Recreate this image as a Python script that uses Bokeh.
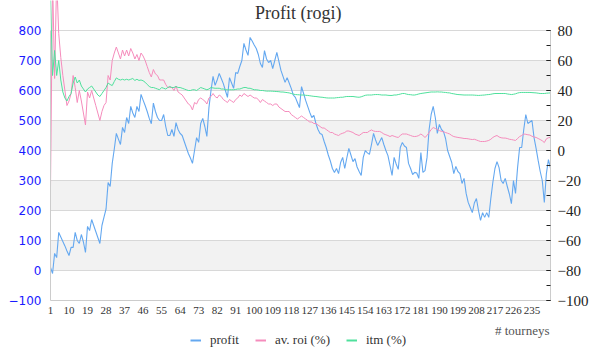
from bokeh.plotting import figure
from bokeh.layouts import column
from bokeh.models import (Range1d, LinearAxis, FixedTicker, SingleIntervalTicker,
                          BoxAnnotation, Legend, LegendItem, Label)
from bokeh.embed import file_html
from bokeh.resources import INLINE

title_text = "Profit  (rogi)"
x_title = "# tourneys"
series_names = ["profit", "av. roi (%)", "itm (%)"]
x_tick_labels = list(range(1, 236, 9))
left_ticks = list(range(-100, 801, 100))

profit = [10, -10, 57, 43, 127, 112, 97, 82, 65, 50,
          77, 77, 127, 100, 90, 120, 95, 60, 147, 133,
          170, 150, 130, 110, 90, 150, 178, 205, 293, 280,
          357, 405, 457, 438, 420, 477, 460, 510, 490, 547,
          525, 510, 547, 530, 587, 568, 550, 530, 507, 489,
          558, 530, 510, 500, 500, 520, 480, 450, 450, 470,
          447, 493, 470, 457, 450, 430, 410, 390, 375, 357,
          400, 443, 427, 490, 507, 480, 447, 543, 600, 647,
          617, 635, 657, 640, 623, 600, 577, 643, 625, 607,
          660, 657, 680, 700, 757, 735, 717, 777, 765, 752,
          740, 720, 690, 677, 733, 705, 693, 700, 673, 700,
          727, 697, 667, 647, 627, 643, 625, 607, 585, 577,
          560, 543, 613, 590, 567, 547, 527, 510, 517, 490,
          470, 457, 453, 430, 410, 385, 365, 340, 327, 340,
          323, 360, 377, 340, 375, 407, 385, 363, 373, 345,
          330, 317, 377, 400, 392, 387, 420, 457, 435, 417,
          430, 443, 420, 400, 383, 350, 317, 377, 355, 337,
          410, 427, 415, 410, 357, 340, 320, 327, 325, 307,
          393, 327, 333, 377, 470, 520, 547, 510, 457, 487,
          470, 463, 440, 400, 380, 360, 323, 347, 330, 323,
          290, 307, 257, 227, 210, 193, 225, 240, 200, 167,
          193, 177, 193, 177, 240, 295, 340, 363, 343, 300,
          290, 307, 280, 255, 223, 300, 257, 343, 410, 410,
          470, 520, 490, 495, 500, 443, 407, 367, 330, 300,
          227, 323, 370, 340]

roi = [-25, 115, 48, 115, 78, 62, 50, 40, 30, 33,
       38, 50, 42, 32, 40, 33, 25, 17, 39, 35,
       40, 35, 30, 25, 20, 26, 30, 32, 50, 47,
       60, 65, 69, 65, 61, 67, 63, 67, 63, 68,
       65, 61, 64, 60, 65, 63, 60, 56, 52, 49,
       54, 51, 50, 47, 47, 47, 44, 42, 42, 42,
       40, 43, 39, 38, 37, 35, 33, 31, 30, 27,
       32, 31, 34, 35, 34, 33, 31, 35, 36, 38,
       36, 35, 37, 36, 34, 33, 32, 34, 33, 32,
       34, 35, 37, 36, 38, 37, 36, 37, 36, 35,
       35, 34, 32, 34, 33, 32, 31, 31, 30, 31,
       31, 29, 28, 27, 26, 26, 26, 24, 23, 22,
       21, 22, 23, 22, 21, 20, 19, 19, 18, 18,
       17, 16, 15, 15, 14, 13, 12, 12, 11, 10.5,
       10, 11, 11.5, 12, 13, 13, 12.5, 12, 11, 10.5,
       10, 11, 12, 12, 12, 13, 13.7, 13, 12.7, 12.7,
       12.7, 12, 11, 10.5, 10, 9.3, 10, 9.5, 9, 8.7,
       10, 11, 11, 11, 10.5, 10, 9.5, 9.3, 9.5, 10,
       11, 10, 8.7, 10, 12, 14, 15.3, 14.7, 14, 13.3,
       12.7, 12.5, 12, 11.5, 11, 10, 9.3, 9, 8.7, 8.5,
       8.3, 8, 8, 7.8, 7.5, 7.3, 7.5, 7, 6.5, 6,
       6, 6, 6.3, 6.7, 7.5, 8.7, 9.5, 10, 9, 8.5,
       8.3, 8.3, 8, 7.5, 7.3, 7, 6.7, 8, 9.3, 10,
       11, 10.8, 10.5, 10.3, 9.5, 9, 8.7, 8, 7.3, 6.5,
       5.3, 7.8, 8.5, 8.7]

itm = [102, 50, 66.7, 50, 60, 47, 39, 35, 33, 36,
       38, 45, 49, 45, 47, 43, 41, 39, 41, 42,
       43, 41, 39, 37, 36, 38, 40, 42, 45, 44,
       43.3, 46, 48.4, 47.5, 47, 47.5, 47, 47.5, 47, 47.5,
       48, 46.7, 47.5, 46.7, 47, 46.5, 45.5, 44, 42.7, 42,
       42, 41.5, 41, 40.5, 42, 41.5, 41, 42, 42.7, 42,
       42, 42.7, 42, 42, 41.5, 41, 40.5, 40, 40, 40.5,
       40.5, 40, 41, 42, 41.5, 41, 40.5, 41, 42, 41.7,
       41.5, 41.5, 41.5, 41, 41, 40.5, 40.5, 40.5, 40.5, 40.5,
       40.7, 41, 41, 41.5, 42, 42, 41.5, 41.5, 41, 40.5,
       40.5, 40.3, 40, 40, 39.8, 39.6, 39.6, 39.6, 39.5, 39.4,
       39.3, 39.2, 39, 39, 38.8, 38.6, 38.4, 38, 37.6, 37.3,
       37.2, 37.1, 37, 37, 36.8, 36.7, 36.5, 36.3, 36.1, 36,
       35.8, 35.6, 35.5, 35.3, 35.1, 35, 35, 35, 35, 35.2,
       35.3, 35.5, 35.5, 35.8, 36, 36, 36, 36, 35.8, 35.6,
       35.5, 35.8, 36.3, 36.8, 37, 37, 37, 37.2, 37.3, 37.3,
       37.2, 37, 37, 37, 36.8, 36.7, 36.7, 37, 37, 37.3,
       37.6, 38, 38, 37.6, 37.3, 37.2, 37, 37, 37.3, 37.7,
       38, 38.2, 38.4, 38.6, 38.8, 39, 39, 39, 39.1, 39,
       39, 38.8, 38.7, 38.5, 38.4, 38, 37.8, 37.5, 37.3, 37.2,
       37.1, 37, 37, 37, 37, 37, 36.9, 36.8, 36.7, 36.8,
       36.9, 37, 37.2, 37.3, 37.5, 37.8, 38, 38, 38, 38,
       38, 38, 37.7, 37.5, 37.3, 37.5, 37.8, 38.3, 38.6, 38.7,
       38.7, 38.7, 38.7, 38.7, 38.6, 38.5, 38.4, 38.2, 38, 38,
       38, 38.2, 38.3, 38.4]

series = [profit, roi, itm]
colors = ["#64a8f0", "#f58cbc", "#4fe09c"]
serif = "Liberation Serif"

# ---------- main chart ----------
p = figure(width=600, height=322, output_backend="svg", toolbar_location=None,
           x_range=Range1d(1, 244), y_range=Range1d(-100, 900),
           min_border_left=50, min_border_right=50, min_border_top=0,
           min_border_bottom=22, background_fill_color="white",
           border_fill_color="white")
p.outline_line_color = None
p.extra_y_ranges = {"r": Range1d(-100, 100)}

for b in [0, 200, 400, 600]:
    p.add_layout(BoxAnnotation(bottom=b, top=b + 100, fill_color="#f2f2f2",
                               fill_alpha=1, line_color=None, level="image"))

p.xgrid.visible = False
p.ygrid.ticker = FixedTicker(ticks=left_ticks)
p.ygrid.grid_line_color = "#d8d8d8"
p.ygrid.level = "underlay"

xa = p.xaxis[0]
xa.ticker = FixedTicker(ticks=x_tick_labels)
xa.major_tick_out = 0
xa.major_tick_in = 0
xa.minor_tick_out = 0
xa.minor_tick_in = 0
xa.major_label_standoff = 6
xa.major_label_text_font = serif
xa.major_label_text_font_size = "11px"
xa.major_label_text_color = "#333333"
xa.axis_line_color = "#cccccc"

ya = p.yaxis[0]
ya.ticker = FixedTicker(ticks=left_ticks)
ya.bounds = (-100, 800)
ya.major_tick_out = 0
ya.major_tick_in = 0
ya.minor_tick_out = 0
ya.minor_tick_in = 0
ya.major_label_standoff = 9
ya.major_label_text_font = "DejaVu Sans"
ya.major_label_text_font_size = "12px"
ya.major_label_text_color = "#1a1aff"
ya.axis_line_color = "#cccccc"

ra = LinearAxis(y_range_name="r", ticker=SingleIntervalTicker(interval=20, num_minor_ticks=2))
ra.bounds = (-100, 80)
ra.major_tick_out = 0
ra.major_tick_in = 4
ra.minor_tick_out = 0
ra.minor_tick_in = 4
ra.major_tick_line_color = "#222222"
ra.minor_tick_line_color = "#222222"
ra.major_label_standoff = 7
ra.major_label_text_font = serif
ra.major_label_text_font_size = "15px"
ra.major_label_text_color = "#222222"
ra.axis_line_color = "#cccccc"
p.add_layout(ra, "right")

p.line(list(range(1, len(profit) + 1)), profit, line_color=colors[0], line_width=1.1)
p.line(list(range(1, len(roi) + 1)), roi, y_range_name="r", line_color=colors[1], line_width=1)
p.line(list(range(1, len(itm) + 1)), itm, y_range_name="r", line_color=colors[2], line_width=1)

p.add_layout(Label(x=250, y=288, x_units="screen", y_units="screen", text=title_text,
                   text_align="center", text_baseline="middle", text_font=serif,
                   text_font_size="18px", text_color="#333333"))

# ---------- footer: axis title + legend (frame aligned with main frame: x 50..550) ----------
f = figure(width=600, height=38, output_backend="svg", toolbar_location=None,
           x_range=Range1d(1, 244), y_range=Range1d(-100, 900),
           x_axis_location=None, y_axis_location=None,
           min_border_left=50, min_border_right=50, min_border_top=0, min_border_bottom=0,
           background_fill_color="white", border_fill_color="white")
f.outline_line_color = None
f.grid.visible = False

lg = [f.line(list(range(1, len(s) + 1)), s, line_color=c, line_width=2, visible=False)
      for s, c in zip(series, colors)]

f.add_layout(Label(x=499, y=30, x_units="screen", y_units="screen", text=x_title,
                   text_align="right", text_baseline="middle", text_font=serif,
                   text_font_size="13px", text_color="#555555"))

legend = Legend(items=[LegendItem(label=n, renderers=[r]) for n, r in zip(series_names, lg)],
                orientation="horizontal", location=(140, 12),
                label_text_font=serif, label_text_font_size="13px",
                label_text_color="#333333", glyph_width=11, glyph_height=12,
                label_standoff=9, spacing=16, padding=0, margin=0,
                label_height=12, border_line_color=None, background_fill_alpha=0,
                inactive_fill_alpha=0)
f.add_layout(legend)

open("out.html", "w").write(file_html(column(p, f, spacing=0), INLINE))
